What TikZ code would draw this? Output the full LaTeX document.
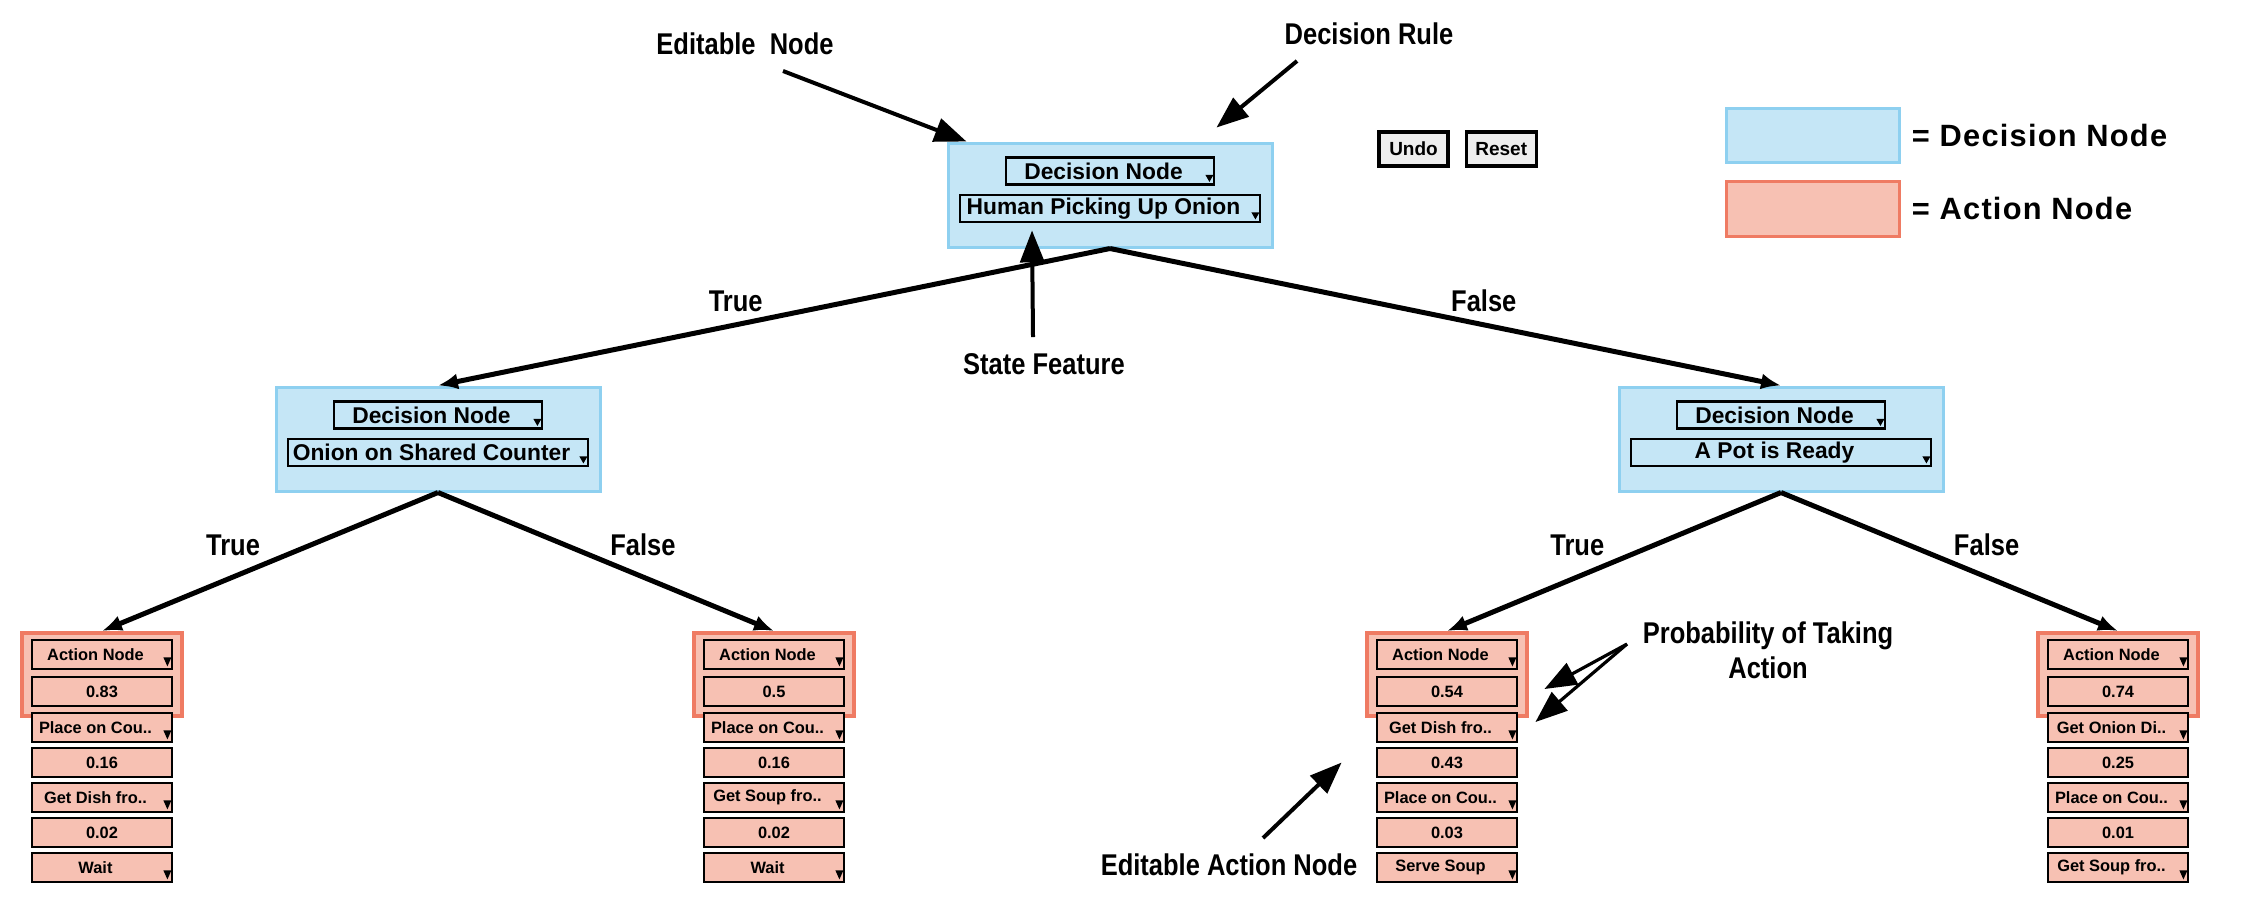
\documentclass[tikz,border=0pt]{standalone}
\usepackage{fontspec}
\setmainfont{Liberation Sans}
\newfontfamily\narrowsf[FakeStretch=0.85]{Liberation Sans}
\newfontfamily\legendsf[LetterSpace=4]{Liberation Sans}
\usetikzlibrary{arrows.meta,positioning}
\definecolor{decfill}{HTML}{C5E6F6}
\definecolor{decline}{HTML}{8ED0F0}
\definecolor{actfill}{HTML}{F7C1B3}
\definecolor{actline}{HTML}{EF7B63}
\definecolor{btnfill}{HTML}{EEEEEE}
\tikzset{
  decbox/.style={draw=decline,fill=decfill,line width=1.5pt,inner sep=0pt},
  actbox/.style={draw=actline,fill=actfill,line width=2pt,inner sep=0pt},
  combo/.style={draw,line width=1.4pt,inner sep=0pt},
  deccombo/.style={combo,fill=decfill,minimum height=13.5pt,font=\bfseries\fontsize{11.4}{12}\selectfont},
  actcombo/.style={combo,fill=actfill,minimum width=70pt,minimum height=14.5pt,font=\bfseries\fontsize{8.2}{9}\selectfont},
  drop/.style={execute at end node={\hspace{6.5pt}}},
  btn/.style={draw,fill=btnfill,line width=1.6pt,minimum height=17pt,inner sep=0pt,font=\bfseries\fontsize{9.5}{10}\selectfont},
  branch/.style={line width=2.5pt,-{Latex[length=10pt,width=8pt]}},
  cond/.style={inner sep=0pt,font=\narrowsf\bfseries\fontsize{15}{17.5}\selectfont},
  anntext/.style={cond},
  callout/.style={line width=2pt,-{Triangle[length=16pt,width=12pt]}},
  legtext/.style={inner sep=0pt,font=\legendsf\bfseries\fontsize{15.4}{17}\selectfont}
}
\begin{document}
\begin{tikzpicture}[x=0.5pt,y=-0.5pt]
\useasboundingbox (0,0) rectangle (2246,918);
% decision nodes
\foreach \n/\x/\y/\feat in {root/1110/195/Human Picking Up Onion,dl/438/439/Onion on Shared Counter,dr/1781/439/A Pot is Ready}{
  \node[decbox,minimum width=162pt,minimum height=52pt] (\n) at (\x,\y) {};
  \node[deccombo,drop,minimum width=104pt] (\n1) at (\x,\y-24) {Decision Node};
  \node[deccombo,drop,minimum width=150pt] (\n2) at (\x,\y+13.5) {\feat};
  \foreach \k in {1,2}
    \fill ([shift={(-5pt,5.5pt)}]\n\k.south east) -- ++(4pt,0pt) -- ++(-2pt,-3.5pt) -- cycle;
}
% action nodes
\foreach \n/\x/\pA/\lA/\pB/\lB/\pC/\lC in {al/102/0.83/Place on Cou../0.16/Get Dish fro../0.02/Wait,
    ar/774/0.5/Place on Cou../0.16/Get Soup fro../0.02/Wait,
    bl/1447/0.54/Get Dish fro../0.43/Place on Cou../0.03/Serve Soup,
    br/2118/0.74/Get Onion Di../0.25/Place on Cou../0.01/Get Soup fro..}{
  \node[actbox,minimum width=80pt,minimum height=41.5pt] (\n) at (\x,674.5) {};
  \node[actcombo,drop] (\n1) at (\x,654.5) {Action Node};
  \node[actcombo] (\n2) at (\x,691.5) {\pA};
  \node[actcombo,drop] (\n3) at (\x,727.5) {\lA};
  \node[actcombo] (\n4) at (\x,762.5) {\pB};
  \node[actcombo,drop] (\n5) at (\x,797.5) {\lB};
  \node[actcombo] (\n6) at (\x,832.5) {\pC};
  \node[actcombo,drop] (\n7) at (\x,867.5) {\lC};
  \foreach \k in {1,3,5,7}
    \fill ([shift={(-5pt,6.5pt)}]\n\k.south east) -- ++(4pt,0pt) -- ++(-2pt,-4.5pt) -- cycle;
}
% tree
\draw[branch] (root.south) -- node[cond,above=5.5pt,pos=.557]{True} (dl.north);
\draw[branch] (root.south) -- node[cond,above=5.5pt,pos=.557]{False} (dr.north);
\draw[branch] (dl.south) -- node[cond,above=9.5pt,pos=.61]{True} (al.north);
\draw[branch] (dl.south) -- node[cond,above=9.5pt,pos=.61]{False} (ar.north);
\draw[branch] (dr.south) -- node[cond,above=9.5pt,pos=.61]{True} (bl.north);
\draw[branch] (dr.south) -- node[cond,above=9.5pt,pos=.61]{False} (br.north);
% buttons and legend
\node[btn,minimum width=34.5pt] (undo) at (1413.5,149) {Undo};
\node[btn,minimum width=35pt,right=7.5pt of undo] (reset) {Reset};
\node[decbox,minimum width=86.5pt,minimum height=27pt] (legdec) at (1812.5,135) {};
\node[actbox,line width=1.5pt,minimum width=86.5pt,minimum height=27.5pt,below=8pt of legdec] (legact) {};
\node[legtext,right=5.5pt of legdec] (legdectext) {= Decision Node};
\node[legtext,right=5.5pt of legact] (legacttext) {= Action Node};
% callouts
\node[anntext] (edn) at (745,44) {Editable\ \ Node};
\node[anntext] (drl) at (1369,34) {Decision Rule};
\node[anntext] (stf) at (1044,364) {State Feature};
\node[anntext,align=center] (pta) at (1768,650) {Probability of Taking\\Action};
\node[anntext] (ean) at (1229,865) {Editable Action Node};
\coordinate (edntail) at (783,71);
\coordinate (drltail) at (1297,61);
\coordinate (stftail) at (1033,337);
\coordinate (ptatail) at (1627,644);
\coordinate (eantail) at (1263,838);
\draw[callout] (edntail) -- ([xshift=10pt]root.north west);
\draw[callout] (drltail) -- ([shift={(-28.5pt,7pt)}]root.north east);
\draw[callout] (stftail) -- ([shift={(-39pt,-3.5pt)}]root2.south);
\draw[callout,line width=1.6pt] (ptatail) -- ([shift={(13pt,1.25pt)}]bl2.east);
\draw[callout,line width=1.6pt] (ptatail) -- ([shift={(8.5pt,2.75pt)}]bl3.east);
\draw[callout] (eantail) -- ([xshift=-17pt]bl4.west);
\end{tikzpicture}
\end{document}
